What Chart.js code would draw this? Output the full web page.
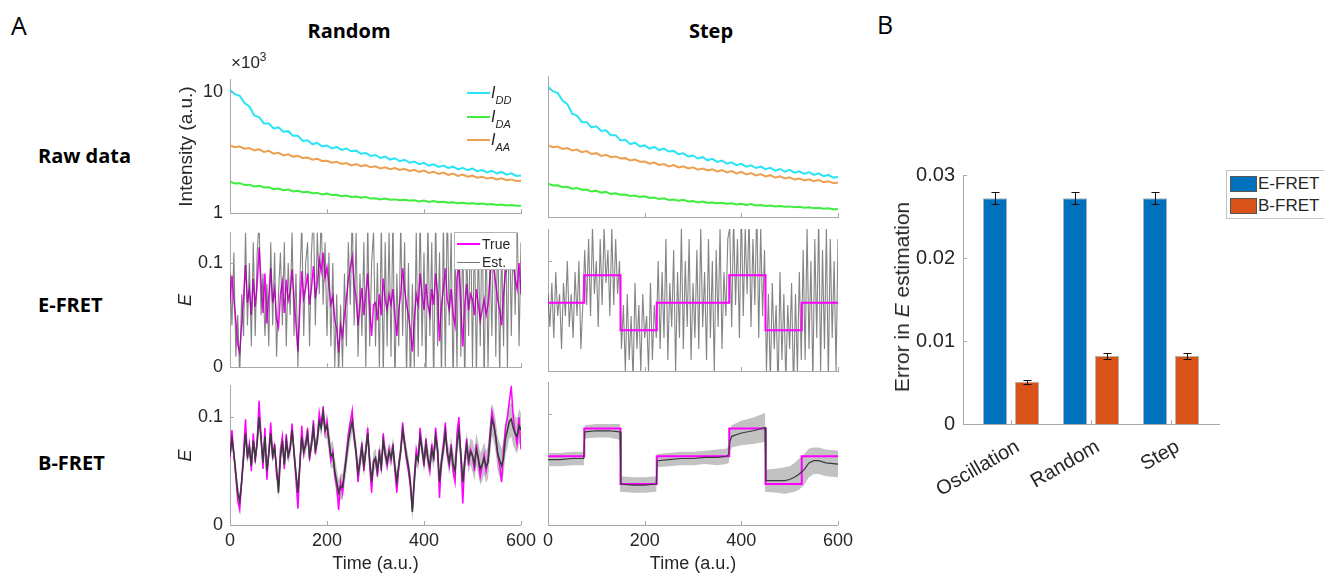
<!DOCTYPE html>
<html>
<head>
<meta charset="utf-8">
<script src="https://cdn.jsdelivr.net/npm/chart.js@4.4.1/dist/chart.umd.min.js"></script>
<style>
body{margin:0;background:#fff;width:1324px;height:577px;overflow:hidden;position:relative;font-family:'Liberation Sans',Arial,sans-serif;color:#262626}
.t{position:absolute;white-space:nowrap;transform:translateY(-50%);z-index:5}
.c{transform:translate(-50%,-50%)}
.rot{transform:translate(-50%,-50%) rotate(-90deg)}
.hdr{font-family:'Open Sans',sans-serif;font-weight:700;font-size:20px;color:#000}
.pl{font-family:'Open Sans',sans-serif;font-size:25px;color:#000}
.ln{position:absolute;z-index:6}
.box{position:absolute;background:#fff;z-index:4}
</style>
</head>
<body>
<script>
// time axis and tick labels
const timeTicks = [0, 200, 400, 600];
const rawTicks = [1, 10];
const eTicks = [0, 0.1];
const errTicks = [0, 0.01, 0.02, 0.03];

// raw intensities (x10^3), every 10 time units
const rawIDD = [10.4, 9.6, 9.3, 8.1, 7.6, 6.4, 6.2, 5.5, 5.5, 5.0,
  5.1, 4.7, 4.75, 4.35, 4.35, 3.95, 4.0, 3.7, 3.8, 3.55,
  3.62, 3.42, 3.52, 3.33, 3.42, 3.24, 3.28, 3.09, 3.14, 2.97,
  3.02, 2.86, 2.93, 2.77, 2.84, 2.69, 2.76, 2.61, 2.67, 2.54,
  2.6, 2.47, 2.53, 2.41, 2.47, 2.36, 2.42, 2.3, 2.37, 2.26,
  2.33, 2.22, 2.27, 2.17, 2.24, 2.13, 2.19, 2.08, 2.13, 2.03, 2.05];
const rawIAA = [3.62, 3.5, 3.55, 3.4, 3.45, 3.3, 3.36, 3.2, 3.27, 3.1,
  3.15, 3.0, 3.06, 2.93, 2.97, 2.86, 2.88, 2.76, 2.81, 2.7,
  2.71, 2.61, 2.66, 2.55, 2.59, 2.48, 2.54, 2.44, 2.49, 2.39,
  2.44, 2.34, 2.39, 2.31, 2.36, 2.27, 2.32, 2.23, 2.28, 2.19,
  2.25, 2.15, 2.2, 2.11, 2.16, 2.07, 2.12, 2.03, 2.08, 2.0,
  2.04, 1.96, 2.0, 1.93, 1.97, 1.9, 1.94, 1.87, 1.9, 1.84, 1.85];
const rawIDA = [1.82, 1.76, 1.77, 1.71, 1.72, 1.66, 1.68, 1.63, 1.64, 1.58,
  1.6, 1.55, 1.57, 1.51, 1.53, 1.49, 1.5, 1.46, 1.47, 1.43,
  1.45, 1.41, 1.42, 1.38, 1.4, 1.36, 1.37, 1.34, 1.36, 1.32,
  1.33, 1.3, 1.32, 1.29, 1.3, 1.28, 1.29, 1.27, 1.28, 1.25,
  1.27, 1.24, 1.26, 1.23, 1.24, 1.22, 1.23, 1.21, 1.22, 1.2,
  1.21, 1.19, 1.2, 1.18, 1.19, 1.17, 1.18, 1.16, 1.17, 1.15, 1.15];
const rawTime = rawIDD.map((_, i) => i * 10);

// random E: true trace, B-FRET estimate, band width per 50 units, E-FRET estimate (every 4 units)
const randTrue = [0.062, 0.088, 0.065, 0.045, 0.022, 0.014, 0.040, 0.068, 0.098, 0.062,
  0.075, 0.050, 0.085, 0.058, 0.078, 0.115, 0.082, 0.052, 0.090, 0.042,
  0.068, 0.095, 0.062, 0.075, 0.046, 0.038, 0.070, 0.082, 0.052, 0.084,
  0.064, 0.072, 0.094, 0.066, 0.042, 0.015, 0.055, 0.092, 0.066, 0.076,
  0.090, 0.060, 0.076, 0.097, 0.066, 0.080, 0.104, 0.092, 0.110, 0.086,
  0.096, 0.078, 0.060, 0.068, 0.046, 0.036, 0.014, 0.040, 0.030, 0.050,
  0.066, 0.084, 0.095, 0.106, 0.080, 0.066, 0.040, 0.060, 0.076, 0.050,
  0.070, 0.090, 0.055, 0.030, 0.060, 0.062, 0.045, 0.070, 0.050, 0.085,
  0.065, 0.055, 0.070, 0.060, 0.075, 0.050, 0.030, 0.055, 0.070, 0.095,
  0.075, 0.060, 0.050, 0.035, 0.015, 0.045, 0.070, 0.060, 0.090, 0.070,
  0.055, 0.080, 0.060, 0.050, 0.075, 0.060, 0.090, 0.070, 0.025, 0.060,
  0.075, 0.095, 0.065, 0.055, 0.075, 0.050, 0.040, 0.085, 0.100, 0.060,
  0.020, 0.060, 0.080, 0.055, 0.070, 0.065, 0.050, 0.075, 0.060, 0.045,
  0.055, 0.065, 0.050, 0.060, 0.085, 0.105, 0.095, 0.080, 0.065, 0.055,
  0.040, 0.070, 0.090, 0.100, 0.115, 0.128, 0.100, 0.085, 0.075, 0.100, 0.070];
const randBEst = [0.065, 0.080, 0.066, 0.048, 0.030, 0.022, 0.040, 0.062, 0.085, 0.064,
  0.072, 0.055, 0.078, 0.062, 0.076, 0.100, 0.080, 0.058, 0.082, 0.050,
  0.066, 0.085, 0.064, 0.072, 0.052, 0.030, 0.062, 0.078, 0.056, 0.078,
  0.064, 0.070, 0.088, 0.068, 0.048, 0.030, 0.056, 0.082, 0.068, 0.074,
  0.084, 0.064, 0.074, 0.090, 0.070, 0.078, 0.096, 0.090, 0.104, 0.088,
  0.092, 0.078, 0.064, 0.066, 0.050, 0.040, 0.030, 0.036, 0.035, 0.048,
  0.062, 0.078, 0.088, 0.096, 0.082, 0.068, 0.048, 0.058, 0.072, 0.055,
  0.068, 0.085, 0.060, 0.040, 0.058, 0.062, 0.050, 0.066, 0.054, 0.078,
  0.066, 0.058, 0.068, 0.062, 0.072, 0.054, 0.040, 0.055, 0.068, 0.088,
  0.076, 0.064, 0.054, 0.040, 0.012, 0.040, 0.064, 0.060, 0.082, 0.070,
  0.058, 0.075, 0.062, 0.054, 0.070, 0.062, 0.082, 0.070, 0.040, 0.058,
  0.070, 0.086, 0.068, 0.058, 0.070, 0.056, 0.050, 0.075, 0.088, 0.066,
  0.040, 0.058, 0.074, 0.060, 0.068, 0.064, 0.056, 0.070, 0.062, 0.052,
  0.056, 0.062, 0.054, 0.058, 0.078, 0.098, 0.092, 0.082, 0.066, 0.060,
  0.055, 0.062, 0.080, 0.088, 0.096, 0.098, 0.090, 0.085, 0.082, 0.092, 0.088];
const randBSd = [0.007, 0.007, 0.007, 0.008, 0.012, 0.010, 0.009, 0.009, 0.010, 0.012, 0.015, 0.016, 0.016];
const randEEst = [0.09, 0.04, 0.11, 0.01, 0.05, -0.01, 0.07, 0.03, 0.13, 0.04, 0.10, 0.02, 0.12, 0.03, 0.11, 0.14, 0.05, 0.09, 0.03, 0.08, 0.02, 0.12, 0.04, 0.11, 0.01, 0.07,
  0.11, 0.04, 0.12, 0.02, 0.10, 0.05, 0.13, 0.03, 0.09, 0.0, 0.08, 0.14, 0.03, 0.10, 0.12, 0.02, 0.11, 0.15, 0.04, 0.13, 0.07, 0.15, 0.06, 0.12, 0.03,
  0.11, 0.02, 0.10, 0.0, 0.07, -0.01, 0.06, 0.0, 0.09, 0.02, 0.12, 0.06, 0.15, 0.04, 0.13, 0.01, 0.09, 0.03, 0.12, 0.0, 0.14, 0.02, 0.10, 0.13, 0.02,
  0.10, 0.0, 0.14, -0.01, 0.12, 0.02, 0.13, 0.01, 0.15, -0.02, 0.09, 0.02, 0.14, 0.03, 0.12, -0.01, 0.10, -0.02, 0.08, 0.0, 0.13, 0.01, 0.15, 0.02, 0.11,
  -0.01, 0.14, 0.03, 0.12, -0.02, 0.15, 0.02, 0.11, -0.01, 0.14, 0.0, 0.16, 0.04, 0.13, -0.02, 0.12, 0.0, 0.15, 0.01, 0.13, -0.02, 0.12, 0.03, 0.15, 0.0,
  0.14, -0.01, 0.12, 0.02, 0.15, -0.02, 0.13, 0.0, 0.11, 0.03, 0.16, 0.01, 0.14, -0.01, 0.12, 0.02, 0.15, 0.0, 0.16, 0.03, 0.14, 0.05, 0.15, 0.02, 0.12];
const randTime = randTrue.map((_, i) => i * 4);

// step E: true levels, E-FRET estimate (every 4 units), B-FRET estimate
const stepEdges = [0, 75, 150, 225, 375, 450, 525, 600];
const stepLevels = [0.062, 0.087, 0.037, 0.062, 0.087, 0.037, 0.062, 0.062];
const stepEEst = [0.07, 0.04, 0.08, 0.03, 0.09, 0.05, 0.07, 0.02, 0.08, 0.05, 0.10, 0.04, 0.07, 0.03, 0.09, 0.05, 0.10, 0.02, 0.06,
  0.11, 0.06, 0.12, 0.05, 0.13, 0.07, 0.10, 0.04, 0.12, 0.06, 0.13, 0.08, 0.11, 0.05, 0.13, 0.06, 0.12, 0.07, 0.10,
  0.02, 0.06, 0.0, 0.07, 0.01, 0.05, -0.01, 0.08, 0.02, 0.06, 0.0, 0.07, 0.03, 0.05, 0.0, 0.08, 0.01, 0.06, 0.03,
  0.10, 0.02, 0.09, 0.03, 0.12, 0.01, 0.08, 0.04, 0.11, 0.0, 0.09, 0.03, 0.13, 0.02, 0.10, 0.04, 0.12, 0.01, 0.08, 0.03, 0.11, 0.02, 0.13, 0.04, 0.09, 0.01, 0.12, 0.03, 0.10, 0.0, 0.11, 0.04, 0.13, 0.02, 0.09, 0.05, 0.12,
  0.13, 0.04, 0.14, 0.06, 0.12, 0.03, 0.15, 0.05, 0.13, 0.07, 0.14, 0.04, 0.12, 0.06, 0.15, 0.03, 0.13, 0.05, 0.11,
  0.0, 0.07, -0.01, 0.08, 0.02, 0.06, -0.02, 0.09, 0.01, 0.07, -0.01, 0.06, 0.02, 0.08, -0.02, 0.07, 0.0, 0.09, 0.01,
  0.11, 0.01, 0.13, 0.02, 0.10, -0.01, 0.12, 0.03, 0.14, 0.0, 0.11, 0.02, 0.13, -0.01, 0.12, 0.03, 0.10, 0.0, 0.12];
const stepETime = stepEEst.map((_, i) => i * 4);
const stepBTime = [0, 25, 50, 74, 76, 100, 125, 149, 151, 175, 200, 224, 226, 250, 275, 300, 325, 350, 370, 374, 376, 380, 400, 425, 449, 451, 475, 490, 500, 510, 520, 525, 530, 540, 550, 560, 575, 600];
const stepBEst = [0.059, 0.059, 0.060, 0.060, 0.084, 0.085, 0.085, 0.084, 0.037, 0.036, 0.036, 0.037, 0.058, 0.059, 0.060, 0.060, 0.061, 0.061, 0.062, 0.064, 0.075, 0.080, 0.083, 0.085, 0.088, 0.040, 0.040, 0.040, 0.041, 0.043, 0.046, 0.048, 0.050, 0.056, 0.058, 0.058, 0.056, 0.055];
const stepBSd = [0.006, 0.006, 0.006, 0.006, 0.006, 0.006, 0.006, 0.007, 0.007, 0.007, 0.007, 0.007, 0.006, 0.006, 0.006, 0.006, 0.006, 0.007, 0.007, 0.008, 0.010, 0.010, 0.011, 0.012, 0.013, 0.010, 0.011, 0.012, 0.012, 0.013, 0.014, 0.014, 0.014, 0.013, 0.012, 0.012, 0.012, 0.012];

// panel B
const categories = ['Oscillation', 'Random', 'Step'];
const eFret = [0.0272, 0.0272, 0.0272];
const eFretErr = [0.0007, 0.0007, 0.0007];
const bFret = [0.0051, 0.0082, 0.0082];
const bFretErr = [0.00025, 0.0004, 0.0004];

const FONT = "'Liberation Sans', Arial, sans-serif";
const AX = '#a8a8a8';
const TXT = '#262626';
const CYAN = '#2ae4f6', GREEN = '#3eed3e', ORANGE = '#eca050', MAG = '#ff00ff';
Chart.defaults.font.family = FONT;
Chart.defaults.color = TXT;

const pts = (xs, ys) => ys.map((y, i) => ({x: xs[i], y}));

const inTicks = {
  id: 'inTicks',
  afterDatasetsDraw(chart) {
    const {ctx, chartArea: a} = chart;
    ctx.save();
    ctx.strokeStyle = AX;
    ctx.lineWidth = 1;
    for (const s of Object.values(chart.scales)) {
      for (const t of s.ticks) {
        const p = Math.round(s.getPixelForValue(t.value)) + 0.5;
        ctx.beginPath();
        if (s.isHorizontal()) { ctx.moveTo(p, a.bottom); ctx.lineTo(p, a.bottom - 4); }
        else { ctx.moveTo(a.left, p); ctx.lineTo(a.left + 4, p); }
        ctx.stroke();
      }
    }
    ctx.restore();
  }
};

function mk(left, top, width, height, config) {
  const c = document.createElement('canvas');
  c.width = width; c.height = height;
  c.style.cssText = `position:absolute;left:${left}px;top:${top}px;width:${width}px;height:${height}px`;
  document.body.appendChild(c);
  Object.assign(config.options, {responsive: false, animation: false, events: []});
  config.plugins = [inTicks].concat(config.plugins || []);
  return new Chart(c, config);
}

function tracePanel(p) {
  const yw = p.yLabels ? 55 : 10;
  const padTop = 14, padRight = 20;
  const xh = p.xLabels ? 50 : 14;
  return mk(p.left - yw, p.top - padTop, yw + p.w + padRight, padTop + p.h + xh, {
    type: 'line',
    data: {datasets: p.datasets},
    options: {
      layout: {padding: {top: padTop, right: padRight, left: 0, bottom: 0}},
      plugins: {legend: {display: false}, tooltip: {enabled: false}},
      elements: {point: {radius: 0}, line: {tension: 0}},
      scales: {
        x: {
          type: 'linear', min: 0, max: 600,
          afterBuildTicks: s => { s.ticks = timeTicks.map(v => ({value: v})); },
          afterFit: s => { s.height = xh; },
          grid: {display: false, drawTicks: false}, border: {color: AX},
          ticks: {display: p.xLabels, padding: 5, font: {size: 18}, maxRotation: 0, autoSkip: false},
          title: {display: p.xLabels, text: 'Time (a.u.)', font: {size: 18}, padding: 0}
        },
        y: {
          type: p.yType || 'linear', min: p.yMin, max: p.yMax,
          afterBuildTicks: s => { s.ticks = p.yTicks.map(v => ({value: v})); },
          afterFit: s => { s.width = yw; },
          grid: {display: false, drawTicks: false}, border: {color: AX},
          ticks: {display: p.yLabels, padding: 7, font: {size: 18}, autoSkip: false, callback: v => String(v)},
          title: {display: !!p.yTitle, text: p.yTitle || '', font: {size: p.yItalic ? 18 : 19, style: p.yItalic ? 'italic' : 'normal'}, padding: 0}
        }
      }
    }
  });
}

function rawSets() {
  return [
    {data: pts(rawTime, rawIDD), borderColor: CYAN, borderWidth: 2},
    {data: pts(rawTime, rawIDA), borderColor: GREEN, borderWidth: 2},
    {data: pts(rawTime, rawIAA), borderColor: ORANGE, borderWidth: 2}
  ];
}
function bandSets(times, est, sdAt) {
  return [
    {data: times.map((t, i) => ({x: t, y: est[i] + sdAt(i, t)})), borderWidth: 0, backgroundColor: '#c2c2c2', fill: '+1', order: 10},
    {data: times.map((t, i) => ({x: t, y: est[i] - sdAt(i, t)})), borderWidth: 0, fill: false, order: 10}
  ];
}

const C1 = 230, C2 = 548, W1 = 291, W2 = 290;
const R1 = 76, R2 = 229, R3 = 382, H1 = 141, H2 = 142, H3 = 143;

// raw data
tracePanel({left: C1, top: R1, w: W1, h: H1, yType: 'logarithmic', yMin: 1, yMax: 12.6, yTicks: rawTicks,
  yLabels: true, xLabels: false, yTitle: 'Intensity (a.u.)', datasets: rawSets()});
tracePanel({left: C2, top: R1, w: W2, h: H1, yType: 'logarithmic', yMin: 1, yMax: 12.6, yTicks: rawTicks,
  yLabels: false, xLabels: false, datasets: rawSets()});

// E-FRET
tracePanel({left: C1, top: R2, w: W1, h: H2, yMin: 0, yMax: 0.129, yTicks: eTicks,
  yLabels: true, xLabels: false, yTitle: 'E', yItalic: true, datasets: [
    {data: pts(randTime, randTrue), borderColor: MAG, borderWidth: 1.5, order: 1},
    {data: pts(randTime, randEEst), borderColor: 'rgba(50,50,50,0.6)', borderWidth: 1.1, order: 0}
  ]});
tracePanel({left: C2, top: R2, w: W2, h: H2, yMin: 0, yMax: 0.129, yTicks: eTicks,
  yLabels: false, xLabels: false, datasets: [
    {data: pts(stepEdges, stepLevels), borderColor: MAG, borderWidth: 2, stepped: 'before', order: 0},
    {data: pts(stepETime, stepEEst), borderColor: 'rgba(50,50,50,0.6)', borderWidth: 1.1, order: 1}
  ]});

// B-FRET
tracePanel({left: C1, top: R3, w: W1, h: H3, yMin: 0, yMax: 0.129, yTicks: eTicks,
  yLabels: true, xLabels: true, yTitle: 'E', yItalic: true, datasets: bandSets(randTime, randBEst, (i, t) => randBSd[Math.floor(t / 50)]).concat([
    {data: pts(randTime, randTrue), borderColor: MAG, borderWidth: 1.5, order: 1},
    {data: pts(randTime, randBEst), borderColor: '#3a3a3a', borderWidth: 1.6, order: 0}
  ])});
tracePanel({left: C2, top: R3, w: W2, h: H3, yMin: 0, yMax: 0.129, yTicks: eTicks,
  yLabels: false, xLabels: true, datasets: bandSets(stepBTime, stepBEst, i => stepBSd[i]).concat([
    {data: pts(stepEdges, stepLevels), borderColor: MAG, borderWidth: 2, stepped: 'before', order: 1},
    {data: pts(stepBTime, stepBEst), borderColor: '#3a3a3a', borderWidth: 1.2, order: 0}
  ])});

// panel B bar chart
const errBars = {
  id: 'errBars',
  afterDatasetsDraw(chart) {
    const {ctx} = chart, y = chart.scales.y;
    const vals = [eFret, bFret], errs = [eFretErr, bFretErr];
    ctx.save();
    ctx.strokeStyle = '#111';
    ctx.lineWidth = 1;
    chart.data.datasets.forEach((ds, di) => {
      chart.getDatasetMeta(di).data.forEach((bar, i) => {
        const x = Math.round(bar.x) + 0.5;
        const y1 = Math.round(y.getPixelForValue(vals[di][i] + errs[di][i])) + 0.5;
        const y2 = Math.round(y.getPixelForValue(vals[di][i] - errs[di][i])) + 0.5;
        ctx.beginPath();
        ctx.moveTo(x, y1); ctx.lineTo(x, y2);
        ctx.moveTo(x - 4, y1); ctx.lineTo(x + 4, y1);
        ctx.moveTo(x - 4, y2); ctx.lineTo(x + 4, y2);
        ctx.stroke();
      });
    });
    ctx.restore();
  }
};
const catPos = categories.map((_, i) => i + 1);
mk(889, 155, 340, 345, {
  type: 'bar',
  data: {datasets: [
    {label: 'E-FRET', data: pts(catPos, eFret), backgroundColor: '#0072bd', borderColor: 'rgba(0,0,0,0.3)', borderWidth: 1, categoryPercentage: 0.8, barPercentage: 0.76},
    {label: 'B-FRET', data: pts(catPos, bFret), backgroundColor: '#d95319', borderColor: 'rgba(0,0,0,0.3)', borderWidth: 1, categoryPercentage: 0.8, barPercentage: 0.76}
  ]},
  options: {
    layout: {padding: {top: 16, right: 10, left: 0, bottom: 0}},
    plugins: {legend: {display: false}, tooltip: {enabled: false}},
    scales: {
      x: {
        type: 'linear', min: 0.4, max: 3.6, offset: false,
        afterBuildTicks: s => { s.ticks = catPos.map(v => ({value: v})); },
        afterFit: s => { s.height = 76; },
        grid: {display: false, drawTicks: false}, border: {color: AX},
        ticks: {padding: 11, labelOffset: 7, font: {size: 20}, minRotation: 30, maxRotation: 30, autoSkip: false, callback: v => categories[v - 1]}
      },
      y: {
        min: 0, max: 0.03,
        afterBuildTicks: s => { s.ticks = errTicks.map(v => ({value: v})); },
        afterFit: s => { s.width = 74; },
        grid: {display: false, drawTicks: false}, border: {color: AX},
        ticks: {padding: 8, font: {size: 20}, autoSkip: false, callback: v => String(v)}
      }
    }
  },
  plugins: [errBars]
});

// text and legends
function txt(html, x, y, cls, center) {
  const d = document.createElement('div');
  d.className = 't ' + (cls || '') + (center ? ' c' : '');
  d.style.left = x + 'px'; d.style.top = y + 'px';
  d.innerHTML = html;
  document.body.appendChild(d);
  return d;
}
function line(x, y, w, color, h) {
  const d = document.createElement('div');
  d.className = 'ln';
  d.style.left = x + 'px';
  d.style.top = (y - Math.floor((h || 1) / 2)) + 'px';
  d.style.width = w + 'px';
  d.style.height = (h || 1) + 'px';
  d.style.background = color;
  document.body.appendChild(d);
}
txt('A', 11, 25, 'pl');
txt('B', 877, 24, 'pl');
txt('Random', 349, 30, 'hdr', true);
txt('Step', 711, 30, 'hdr', true);
txt('Raw data', 38, 155, 'hdr');
txt('E-FRET', 38, 304, 'hdr');
txt('B-FRET', 38, 462, 'hdr');
txt('×10<sup style="font-size:12px;vertical-align:7px">3</sup>', 231, 61).style.fontSize = '17px';
txt('Error in <i>E</i> estimation', 902, 297, 'rot').style.fontSize = '21px';

const rawLeg = [['DD', CYAN, 93], ['DA', GREEN, 117], ['AA', ORANGE, 140]];
rawLeg.forEach(([s, c, y]) => {
  line(467, y, 23, c, 2);
  const d = txt('<i>I</i><i style="font-size:11px;position:relative;top:6px">' + s + '</i>', 491, y);
  d.style.fontSize = '16px';
});

const eb = document.createElement('div');
eb.className = 'box';
eb.style.cssText += 'left:454px;top:232px;width:61px;height:36px;border:1px solid #b4b4b4';
document.body.appendChild(eb);
line(457, 244, 23, MAG, 2);
line(457, 262, 23, '#777', 1);
txt('True', 482, 244).style.fontSize = '14px';
txt('Est.', 482, 262).style.fontSize = '14px';

const bb = document.createElement('div');
bb.className = 'box';
bb.style.cssText += 'left:1226px;top:170px;width:120px;height:47px;border:1px solid #c4c4c4';
document.body.appendChild(bb);
[['E-FRET', '#0072bd', 176], ['B-FRET', '#d95319', 198]].forEach(([s, c, y]) => {
  const p = document.createElement('div');
  p.className = 'box';
  p.style.cssText += `left:1230px;top:${y}px;width:25px;height:14px;background:${c};border:1px solid #555`;
  document.body.appendChild(p);
  txt(s, 1258, y + 8).style.fontSize = '17px';
});
</script>
</body>
</html>
